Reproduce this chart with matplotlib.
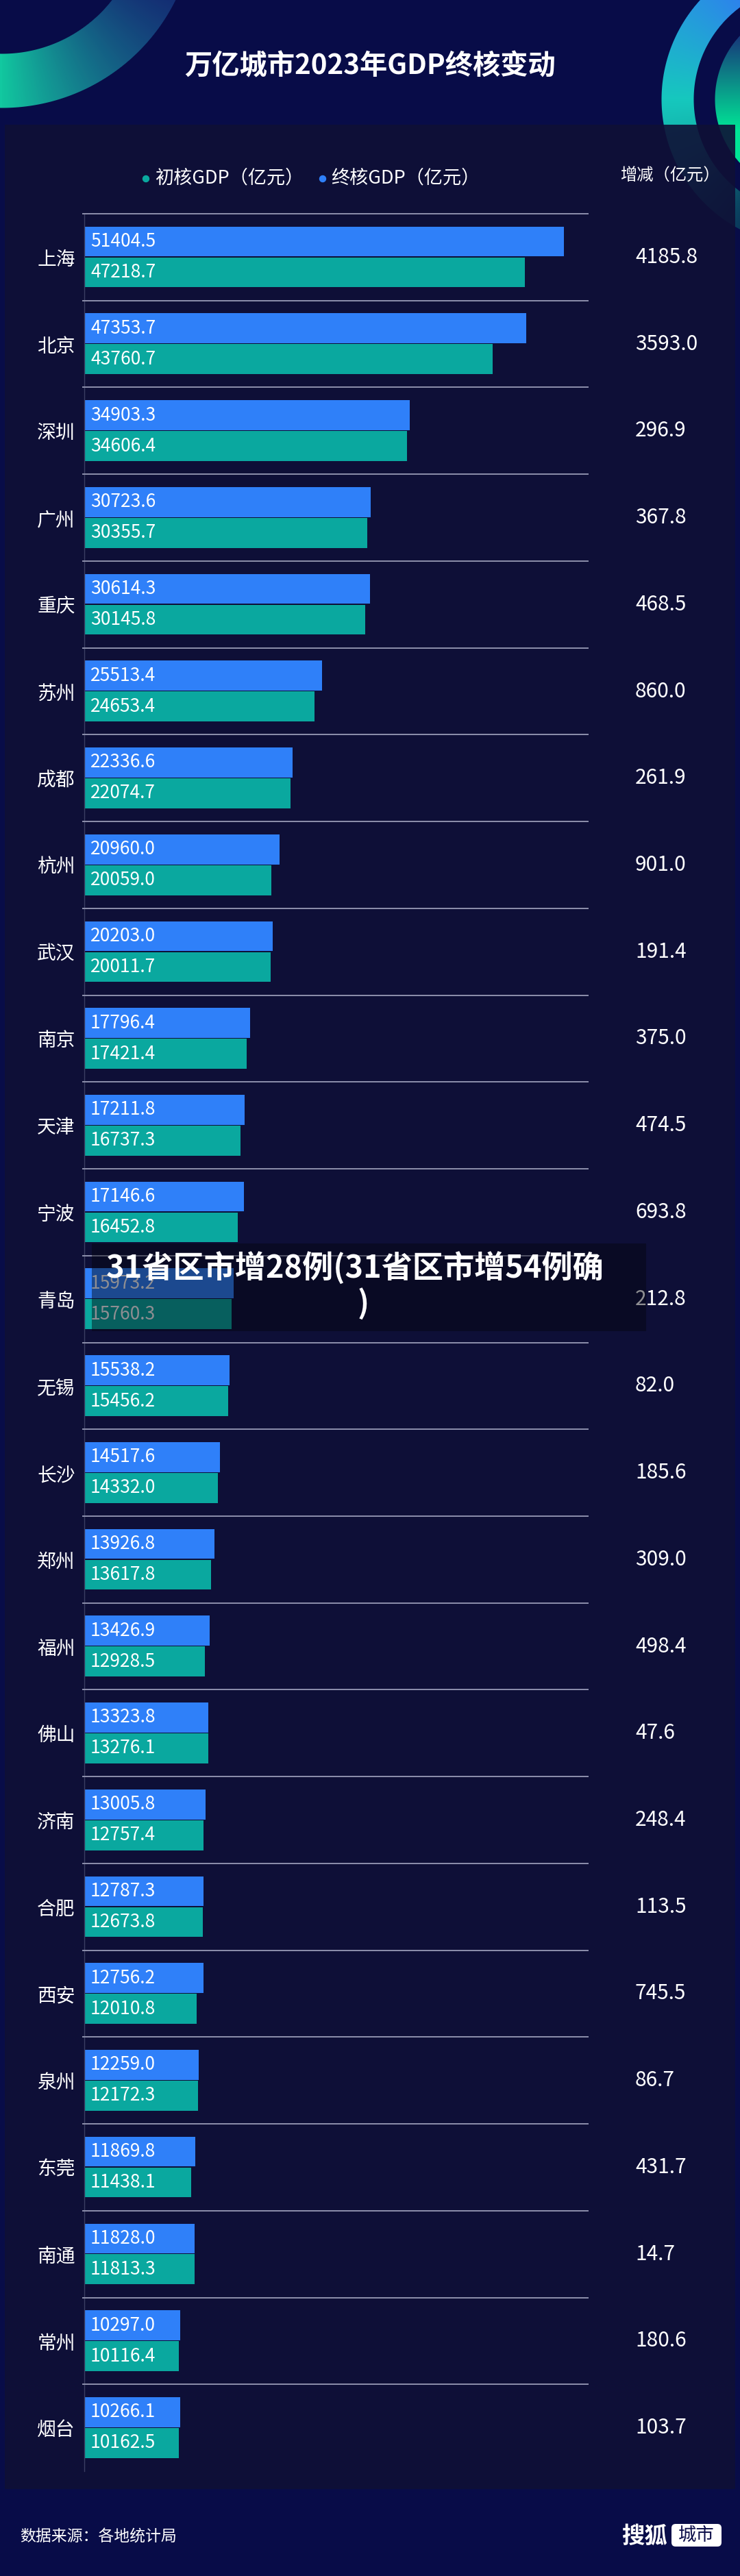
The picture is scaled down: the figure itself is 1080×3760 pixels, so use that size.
import numpy as np
import matplotlib.pyplot as plt
from matplotlib.patches import Rectangle, Circle, FancyBboxPatch
from matplotlib.transforms import blended_transform_factory

plt.rcParams['font.family'] = ['Noto Sans CJK SC', 'DejaVu Sans']

# data (亿元)
cities = ['上海', '北京', '深圳', '广州', '重庆', '苏州', '成都', '杭州', '武汉',
          '南京', '天津', '宁波', '青岛', '无锡', '长沙', '郑州', '福州', '佛山',
          '济南', '合肥', '西安', '泉州', '东莞', '南通', '常州', '烟台']
final_gdp = [51404.5, 47353.7, 34903.3, 30723.6, 30614.3, 25513.4, 22336.6,
             20960.0, 20203.0, 17796.4, 17211.8, 17146.6, 15973.2, 15538.2,
             14517.6, 13926.8, 13426.9, 13323.8, 13005.8, 12787.3, 12756.2,
             12259.0, 11869.8, 11828.0, 10297.0, 10266.1]
initial_gdp = [47218.7, 43760.7, 34606.4, 30355.7, 30145.8, 24653.4, 22074.7,
               20059.0, 20011.7, 17421.4, 16737.3, 16452.8, 15760.3, 15456.2,
               14332.0, 13617.8, 12928.5, 13276.1, 12757.4, 12673.8, 12010.8,
               12172.3, 11438.1, 11813.3, 10116.4, 10162.5]
changes = [4185.8, 3593.0, 296.9, 367.8, 468.5, 860.0, 261.9, 901.0, 191.4,
           375.0, 474.5, 693.8, 212.8, 82.0, 185.6, 309.0, 498.4, 47.6, 248.4,
           113.5, 745.5, 86.7, 431.7, 14.7, 180.6, 103.7]

BLUE = '#2f80f9'
TEAL = '#0aa89f'
W, H = 1080, 3760

fig = plt.figure(figsize=(W / 100, H / 100), dpi=100)
fig.patch.set_facecolor('#080c48')

# background layer in pixel coordinates
bg = fig.add_axes([0, 0, 1, 1])
bg.set_xlim(0, W)
bg.set_ylim(H, 0)
bg.axis('off')


def ring_image(x0, x1, y0, y1, cx, cy, r_in, r_out, color_fn):
    xs = np.arange(x0, x1) + 0.5
    ys = np.arange(y0, y1) + 0.5
    X, Y = np.meshgrid(xs, ys)
    R = np.hypot(X - cx, Y - cy)
    rgba = color_fn(X, Y, R)
    edge = np.clip(R - r_in, 0, 1) * np.clip(r_out - R, 0, 1)
    rgba[..., 3] *= edge
    bg.imshow(rgba, extent=(x0, x1, y1, y0), aspect='auto', zorder=1,
              interpolation='bilinear')


def lerp(c0, c1, t):
    c0 = np.array(c0) / 255.0
    c1 = np.array(c1) / 255.0
    return c0 + (c1 - c0) * t[..., None]


# top-left decorative arc
def tl_color(X, Y, R):
    ang = np.degrees(np.arctan2(Y + 125, X - 3))
    t = np.clip((ang - 25) / 65, 0, 1)
    rgb = lerp((30, 70, 150), (18, 200, 160), t)
    a = 0.55 + 0.45 * t
    return np.dstack([rgb, a])


ring_image(0, 300, 0, 200, 3, -125, 203, 283, tl_color)


# top-right decorative ring and disc
def tr_color(X, Y, R):
    phi = np.degrees(np.arccos(np.clip(-(Y - 145) / np.maximum(R, 1), -1, 1)))
    t1 = np.clip((phi - 30) / 60, 0, 1)
    rgb = lerp((47, 125, 240), (22, 200, 190), t1)
    t2 = np.clip((phi - 90) / 60, 0, 1)
    rgb = rgb * (1 - 0.35 * t2[..., None])
    a = np.clip((175 - phi) / 60, 0, 1)
    return np.dstack([rgb, a])


ring_image(940, W, 0, 400, 1180, 145, 167, 215, tr_color)


def disc_color(X, Y, R):
    t = np.clip((Y - 40) / 150, 0, 1)
    rgb = lerp((25, 40, 120), (0, 230, 150), t)
    return np.dstack([rgb, np.ones_like(t)])


ring_image(1030, W, 0, 300, 1180, 145, -1, 137, disc_color)
bg.set_xlim(0, W)
bg.set_ylim(H, 0)

# chart panel
bg.add_patch(Rectangle((7, 182), 1066, 3451, facecolor='#0f1036', alpha=0.9,
                       edgecolor='none', zorder=2))

# title and legend
bg.text(540, 97, '万亿城市2023年GDP终核变动', ha='center', va='center',
        fontsize=29, fontweight='bold', color='white', zorder=5)
bg.add_patch(Circle((213, 261), 4.5, color=TEAL, zorder=5))
bg.text(226, 260, '初核GDP（亿元）', ha='left', va='center', fontsize=19.5,
        color='white', zorder=5)
bg.add_patch(Circle((471, 261), 4.5, color=BLUE, zorder=5))
bg.text(483, 260, '终核GDP（亿元）', ha='left', va='center', fontsize=19.5,
        color='white', zorder=5)
bg.text(978, 257, '增减（亿元）', ha='center', va='center', fontsize=17.5,
        color='white', zorder=5)

# footer
bg.text(29, 3702, '数据来源：各地统计局', ha='left', va='center', fontsize=16.5,
        color='white', zorder=5)
bg.text(907, 3702, '搜狐', ha='left', va='center', fontsize=24,
        fontweight='bold', color='white', zorder=5)
bg.add_patch(FancyBboxPatch((980, 3684), 73, 33,
                            boxstyle='round,pad=0,rounding_size=6',
                            facecolor='white', edgecolor='none', zorder=5))
bg.text(1016.5, 3700, '城市', ha='center', va='center', fontsize=19,
        color='#0a0c48', zorder=6)

# main bar chart
top_px, bot_px, left_px, right_px = 312, 3607, 123, 859
ax = fig.add_axes([left_px / W, 1 - bot_px / H, (right_px - left_px) / W,
                   (bot_px - top_px) / H])
ax.set_facecolor('none')
n = len(cities)
y = np.arange(n)
ax.barh(y - 0.18, final_gdp, height=0.345, color=BLUE, zorder=2)
ax.barh(y + 0.175, initial_gdp, height=0.345, color=TEAL, zorder=2)
ax.set_xlim(0, 54050)
ax.set_ylim(n - 0.5, -0.5)
ax.hlines(y - 0.5, -230, 54050, colors='#8e90ad', lw=1.4, clip_on=False,
          zorder=3)

for s in ['top', 'right', 'bottom']:
    ax.spines[s].set_visible(False)
ax.spines['left'].set_color('#3b3e63')
ax.spines['left'].set_linewidth(1)
ax.tick_params(axis='x', bottom=False, labelbottom=False)
ax.set_yticks(y, cities)
ax.tick_params(axis='y', length=0, pad=9.5, labelsize=20, labelcolor='white')

for i in range(n):
    ax.annotate(f'{final_gdp[i]:.1f}', xy=(0, i - 0.18), xytext=(6.5, 0),
                textcoords='offset points', ha='left', va='center',
                fontsize=19, color='white', zorder=4)
    ax.annotate(f'{initial_gdp[i]:.1f}', xy=(0, i + 0.175), xytext=(6.5, 0),
                textcoords='offset points', ha='left', va='center',
                fontsize=19, color='white', zorder=4)

trans = blended_transform_factory(bg.transData, ax.transData)
for i in range(n):
    ax.text(927, i, f'{changes[i]:.1f}', transform=trans, ha='left',
            va='center', fontsize=21.5, color='white')

# overlay caption box
ov = fig.add_axes([0, 0, 1, 1], zorder=5)
ov.set_xlim(0, W)
ov.set_ylim(H, 0)
ov.axis('off')
ov.patch.set_alpha(0)
ov.add_patch(Rectangle((134, 1815), 809, 128, facecolor='#05060f', alpha=0.45,
                       edgecolor='none'))
ov.text(518, 1852, '31省区市增28例(31省区市增54例确', ha='center', va='center',
        fontsize=32.5, fontweight='bold', color='white')
ov.text(530, 1903, ')', ha='center', va='center', fontsize=32.5,
        fontweight='bold', color='white')

fig.savefig('out.png', dpi=100, facecolor=fig.get_facecolor())
